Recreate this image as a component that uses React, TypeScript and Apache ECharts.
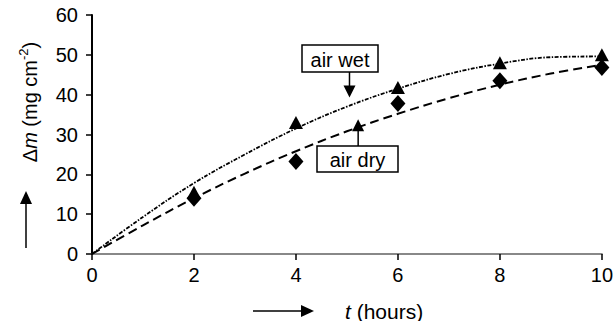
import React, { useEffect, useRef } from "react";
import * as echarts from "echarts";

const hours = [2, 4, 6, 8, 10];
const airWetValues = [15.5, 33, 41.8, 48, 50];
const airDryValues = [14, 23.2, 37.8, 43.5, 46.8];
const fitHours = [0, 1, 2, 3, 4, 5, 6, 7, 8, 9, 10];
const airWetFit = [0, 9.3, 17.8, 25, 31.5, 37, 41.5, 45.2, 47.8, 49.4, 49.6];
const airDryFit = [0, 7.2, 14, 20.2, 25.8, 30.8, 35.2, 39.1, 42.5, 45.3, 47.5];
const xTicks = [0, 2, 4, 6, 8, 10];
const yTicks = [0, 10, 20, 30, 40, 50, 60];
const wetLabel = "air wet";
const dryLabel = "air dry";
const wetArrowTip = [5.05, 39.3];
const dryArrowTip = [5.22, 33.8];

const FONT = "'Liberation Sans', Arial, sans-serif";

export default function App() {
  const ref = useRef<HTMLDivElement>(null);
  useEffect(() => {
    if (!ref.current) return;
    const chart = echarts.init(ref.current, null, { renderer: "svg" });
    chart.setOption({
      animation: false,
      backgroundColor: "#fff",
      grid: { left: 92, right: 12, top: 15, bottom: 67 },
      xAxis: {
        type: "value",
        min: xTicks[0],
        max: xTicks[xTicks.length - 1],
        interval: 2,
        axisLine: { show: true, lineStyle: { color: "#888", width: 2 } },
        axisTick: { show: true, length: 6, lineStyle: { color: "#000", width: 1.5 } },
        axisLabel: { color: "#000", fontSize: 20, fontFamily: FONT, margin: 11 },
        splitLine: { show: false },
      },
      yAxis: {
        type: "value",
        min: yTicks[0],
        max: yTicks[yTicks.length - 1],
        interval: 10,
        axisLine: { show: true, lineStyle: { color: "#000", width: 2 } },
        axisTick: { show: true, length: 6, lineStyle: { color: "#000", width: 1.5 } },
        axisLabel: { color: "#000", fontSize: 20, fontFamily: FONT, margin: 14 },
        splitLine: { show: false },
      },
      series: [
        {
          name: "air wet fit",
          type: "line",
          smooth: 0.4,
          showSymbol: false,
          data: fitHours.map((h, i) => [h, airWetFit[i]]),
          lineStyle: { color: "#000", width: 1.8, type: [4, 1.5, 1.5, 1.5] },
          z: 2,
        },
        {
          name: "air dry fit",
          type: "line",
          smooth: 0.4,
          showSymbol: false,
          data: fitHours.map((h, i) => [h, airDryFit[i]]),
          lineStyle: { color: "#000", width: 2, type: [9, 5] },
          z: 2,
        },
        {
          name: "air wet",
          type: "scatter",
          symbol: "triangle",
          symbolSize: [14, 13],
          itemStyle: { color: "#000", opacity: 1 },
          data: hours.map((h, i) => [h, airWetValues[i]]),
          z: 3,
        },
        {
          name: "air dry",
          type: "scatter",
          symbol: "diamond",
          symbolSize: [15, 17],
          itemStyle: { color: "#000", opacity: 1 },
          data: hours.map((h, i) => [h, airDryValues[i]]),
          z: 3,
        },
      ],
    });

    const wt = chart.convertToPixel({ gridIndex: 0 }, wetArrowTip) as number[];
    const dt = chart.convertToPixel({ gridIndex: 0 }, dryArrowTip) as number[];

    const wetBox = { x: 302, y: 45, w: 76, h: 27 };
    const dryBox = { x: 317, y: 146, w: 81, h: 26 };

    chart.setOption({
      graphic: [
        // y axis title
        {
          type: "text",
          x: 30,
          y: 102,
          rotation: Math.PI / 2,
          style: {
            text: "{n|Δ}{i|m}{n| (mg cm}{s|-2}{n|)}",
            align: "center",
            verticalAlign: "middle",
            fill: "#000",
            rich: {
              n: { fontSize: 20, fontFamily: FONT, fill: "#000" },
              i: { fontSize: 20, fontFamily: FONT, fontStyle: "italic", fill: "#000" },
              s: { fontSize: 13, fontFamily: FONT, fill: "#000", padding: [0, 0, 13, 0] },
            },
          },
        },
        // y arrow
        { type: "line", shape: { x1: 26, y1: 248, x2: 26, y2: 202 }, style: { stroke: "#000", lineWidth: 1.5 } },
        { type: "polygon", shape: { points: [[20, 204], [32, 204], [26, 191]] }, style: { fill: "#000" } },
        // x arrow
        { type: "line", shape: { x1: 253, y1: 311, x2: 303, y2: 311 }, style: { stroke: "#000", lineWidth: 1.5 } },
        { type: "polygon", shape: { points: [[301, 305], [301, 317], [314, 311]] }, style: { fill: "#000" } },
        {
          type: "text",
          x: 345,
          y: 311,
          style: {
            text: "{i|t}{n| (hours)}",
            verticalAlign: "middle",
            rich: {
              n: { fontSize: 21, fontFamily: FONT, fill: "#000" },
              i: { fontSize: 21, fontFamily: FONT, fontStyle: "italic", fill: "#000" },
            },
          },
        },
        // air wet box
        {
          type: "rect",
          shape: { x: wetBox.x, y: wetBox.y, width: wetBox.w, height: wetBox.h },
          style: { fill: "#fff", stroke: "#000", lineWidth: 1.5 },
          z: 10,
        },
        {
          type: "text",
          x: wetBox.x + wetBox.w / 2,
          y: wetBox.y + wetBox.h / 2 + 1,
          style: { text: wetLabel, align: "center", verticalAlign: "middle", fontSize: 20, fontFamily: FONT, fill: "#000" },
          z: 11,
        },
        {
          type: "line",
          shape: { x1: wt[0], y1: wetBox.y + wetBox.h, x2: wt[0], y2: wt[1] - 10 },
          style: { stroke: "#000", lineWidth: 1.5 },
          z: 10,
        },
        {
          type: "polygon",
          shape: { points: [[wt[0] - 6, wt[1] - 12], [wt[0] + 6, wt[1] - 12], [wt[0], wt[1]]] },
          style: { fill: "#000" },
          z: 10,
        },
        // air dry box
        {
          type: "rect",
          shape: { x: dryBox.x, y: dryBox.y, width: dryBox.w, height: dryBox.h },
          style: { fill: "#fff", stroke: "#000", lineWidth: 1.5 },
          z: 10,
        },
        {
          type: "text",
          x: dryBox.x + dryBox.w / 2,
          y: dryBox.y + dryBox.h / 2 + 1,
          style: { text: dryLabel, align: "center", verticalAlign: "middle", fontSize: 20, fontFamily: FONT, fill: "#000" },
          z: 11,
        },
        {
          type: "line",
          shape: { x1: dt[0], y1: dryBox.y, x2: dt[0], y2: dt[1] + 10 },
          style: { stroke: "#000", lineWidth: 1.5 },
          z: 10,
        },
        {
          type: "polygon",
          shape: { points: [[dt[0] - 6, dt[1] + 12], [dt[0] + 6, dt[1] + 12], [dt[0], dt[1]]] },
          style: { fill: "#000" },
          z: 10,
        },
      ],
    });
    return () => chart.dispose();
  }, []);
  return (
    <div
      ref={ref}
      style={{ position: "fixed", left: 0, top: 0, width: 616, height: 321, background: "#fff" }}
    />
  );
}
